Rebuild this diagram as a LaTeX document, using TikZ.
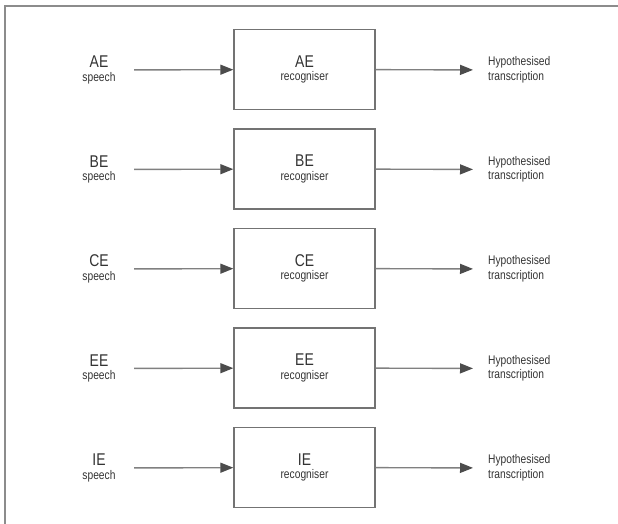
\documentclass[tikz,border=0pt]{standalone}
\usepackage{fontspec}
\setmainfont[FakeStretch=0.82]{Liberation Sans}
\usetikzlibrary{arrows.meta}

\begin{document}
\begin{tikzpicture}[x=1pt,y=-1pt,
 src/.style={align=center, minimum width=70pt, inner sep=0pt, text=black!80, font=\fontsize{12.5}{13.5}\selectfont},
 rec/.style={draw=black!55, line width=1.4pt, minimum width=141pt, minimum height=80pt, inner sep=0pt, align=center, text=black!80, font=\fontsize{12.5}{13.5}\selectfont},
 hyp/.style={anchor=west, align=left, inner xsep=15pt, inner ysep=0pt, text=black!80, font=\fontsize{12.5}{14.5}\selectfont},
 arr/.style={draw=black!50, line width=1.4pt, -{Triangle[length=13pt,width=10pt,color=black!70]}}]
 \useasboundingbox (0,0) rectangle (618,524); %全体
 \draw[black!45, line width=1.2pt] (5,524)--(5,6)--(618,6); %枠
 % AE
 \node[src] (AEin) at (99,70) {{\fontsize{17}{17}\selectfont AE}\\speech}; %AE入力
 \node[rec] (AErec) at (304.5,69.5) {{\fontsize{17}{17}\selectfont AE}\\recogniser}; %AE認識器
 \node[hyp] (AEout) at (473,70) {Hypothesised\\transcription}; %AE出力
 \draw[arr] (AEin)--(AErec);
 \draw[arr] (AErec)--(AEout);
 % BE
 \node[src] (BEin) at (99,169.5) {{\fontsize{17}{17}\selectfont BE}\\speech}; %BE入力
 \node[rec] (BErec) at (304.5,169) {{\fontsize{17}{17}\selectfont BE}\\recogniser}; %BE認識器
 \node[hyp] (BEout) at (473,169.5) {Hypothesised\\transcription}; %BE出力
 \draw[arr] (BEin)--(BErec);
 \draw[arr] (BErec)--(BEout);
 % CE
 \node[src] (CEin) at (99,269) {{\fontsize{17}{17}\selectfont CE}\\speech}; %CE入力
 \node[rec] (CErec) at (304.5,268.5) {{\fontsize{17}{17}\selectfont CE}\\recogniser}; %CE認識器
 \node[hyp] (CEout) at (473,269) {Hypothesised\\transcription}; %CE出力
 \draw[arr] (CEin)--(CErec);
 \draw[arr] (CErec)--(CEout);
 % EE
 \node[src] (EEin) at (99,368.5) {{\fontsize{17}{17}\selectfont EE}\\speech}; %EE入力
 \node[rec] (EErec) at (304.5,368) {{\fontsize{17}{17}\selectfont EE}\\recogniser}; %EE認識器
 \node[hyp] (EEout) at (473,368.5) {Hypothesised\\transcription}; %EE出力
 \draw[arr] (EEin)--(EErec);
 \draw[arr] (EErec)--(EEout);
 % IE
 \node[src] (IEin) at (99,468) {{\fontsize{17}{17}\selectfont IE}\\speech}; %IE入力
 \node[rec] (IErec) at (304.5,467.5) {{\fontsize{17}{17}\selectfont IE}\\recogniser}; %IE認識器
 \node[hyp] (IEout) at (473,468) {Hypothesised\\transcription}; %IE出力
 \draw[arr] (IEin)--(IErec);
 \draw[arr] (IErec)--(IEout);
\end{tikzpicture}
\end{document}
